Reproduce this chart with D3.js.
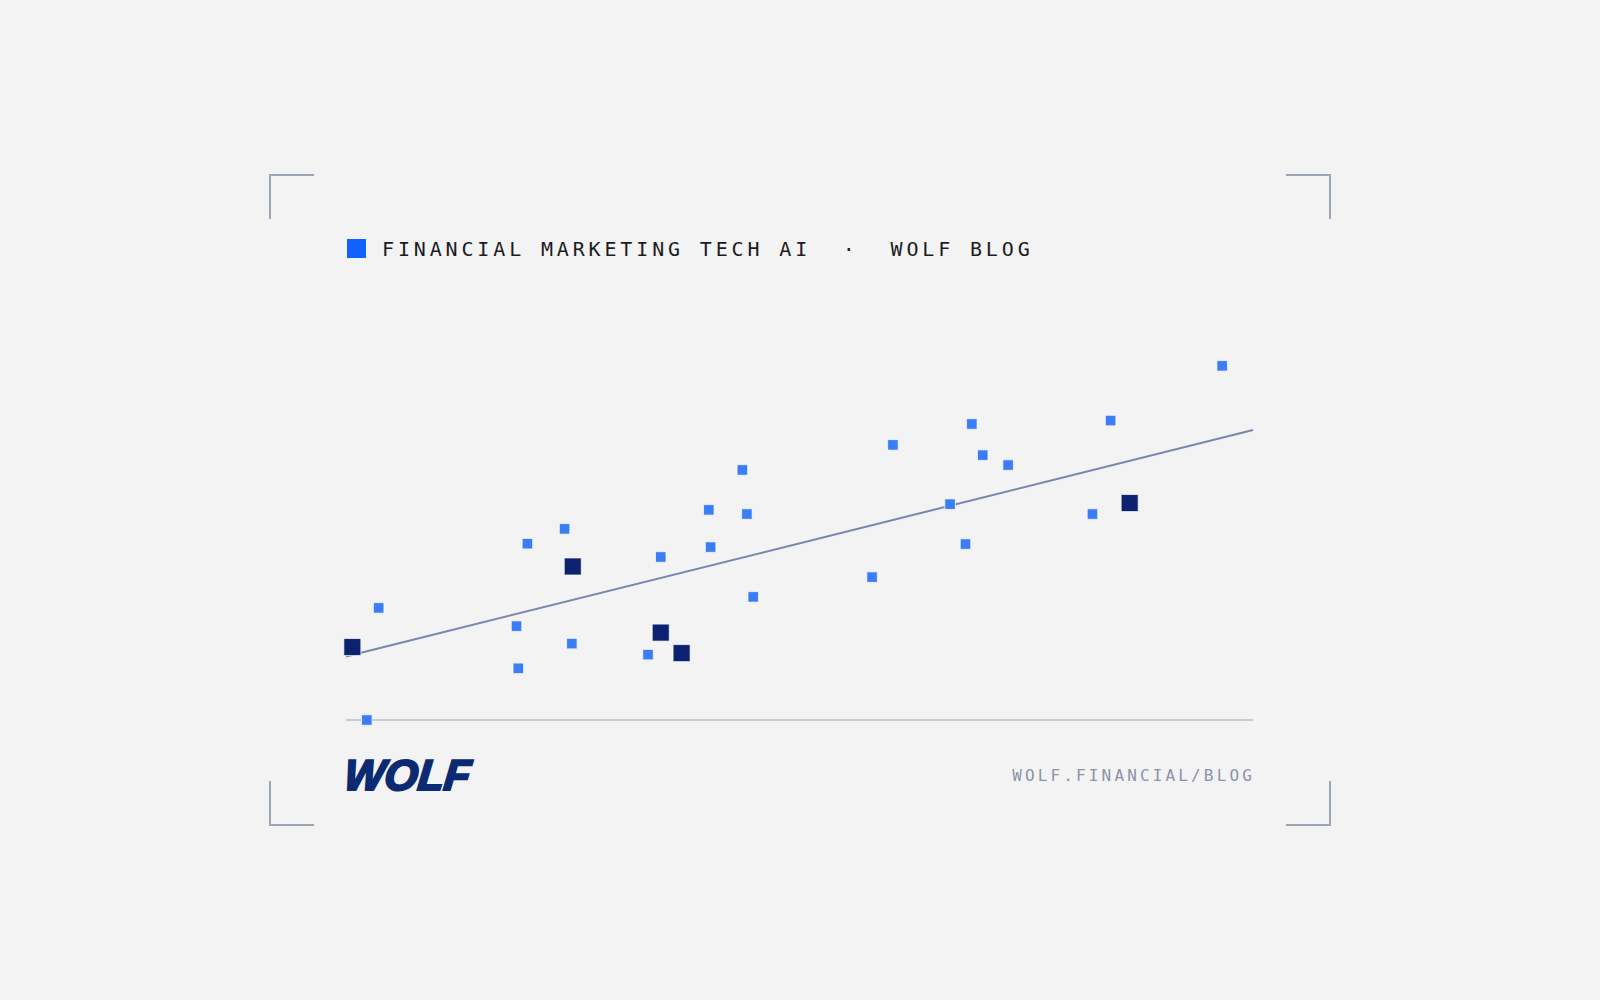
<!DOCTYPE html>
<html>
<head>
<meta charset="utf-8">
<script src="https://cdn.jsdelivr.net/npm/d3@7"></script>
<style>
  html, body { margin: 0; padding: 0; background: #f3f3f3; }
  svg { display: block; }
</style>
</head>
<body>
<svg id="chart" width="1600" height="1000"></svg>
<script>
// ---- data ----
const titleText = "FINANCIAL MARKETING TECH AI  \u00B7  WOLF BLOG";
const urlText = "WOLF.FINANCIAL/BLOG";
const logoText = "WOLF";

const lightX = [2.3, 3.6, 18.8, 19.0, 20.0, 24.1, 24.9, 33.3, 34.7, 40.0, 40.2, 43.7, 44.2, 44.9, 58.0, 60.3, 66.6, 68.3, 69.0, 70.2, 73.0, 82.3, 84.3, 96.6];
const lightY = [0.0, 29.5, 24.7, 13.6, 46.4, 50.3, 20.1, 17.2, 42.9, 55.3, 45.5, 65.8, 54.2, 32.4, 37.6, 72.4, 56.8, 46.3, 77.9, 69.7, 67.1, 54.2, 78.8, 93.2];

const darkX = [0.7, 25.0, 34.7, 37.0, 86.4];
const darkY = [19.2, 40.4, 23.0, 17.6, 57.1];

const trendX = [0, 100];
const trendY = [16.7, 76.3];

const xDomain = [0, 100];
const yDomain = [0, 100];

// ---- drawing ----
const svg = d3.select("#chart");
svg.append("rect").attr("width", 1600).attr("height", 1000).attr("fill", "#f3f3f3");

const x = d3.scaleLinear().domain(xDomain).range([346, 1253]);
const y = d3.scaleLinear().domain(yDomain).range([720, 340]);

// corner brackets
const frame = { l: 270, r: 1330, t: 175, b: 825, arm: 44 };
const corners = [
  [[frame.l, frame.t + frame.arm], [frame.l, frame.t], [frame.l + frame.arm, frame.t]],
  [[frame.r - frame.arm, frame.t], [frame.r, frame.t], [frame.r, frame.t + frame.arm]],
  [[frame.l, frame.b - frame.arm], [frame.l, frame.b], [frame.l + frame.arm, frame.b]],
  [[frame.r - frame.arm, frame.b], [frame.r, frame.b], [frame.r, frame.b - frame.arm]]
];
svg.selectAll("path.corner").data(corners).join("path")
  .attr("class", "corner")
  .attr("d", d3.line())
  .attr("fill", "none")
  .attr("stroke", "#9ba6b5")
  .attr("stroke-width", 2);

// title
svg.append("rect").attr("x", 347).attr("y", 239).attr("width", 19).attr("height", 19).attr("fill", "#0f62fe");
svg.append("text")
  .attr("x", 382).attr("y", 256)
  .attr("font-family", "'DejaVu Sans Mono', monospace")
  .attr("font-size", 20)
  .attr("letter-spacing", "3.85px")
  .attr("fill", "#1b1c1f")
  .attr("xml:space", "preserve")
  .style("white-space", "pre")
  .text(titleText);

// baseline
svg.append("line")
  .attr("x1", x(xDomain[0])).attr("x2", x(xDomain[1]))
  .attr("y1", y(0)).attr("y2", y(0))
  .attr("stroke", "#c6cbd9").attr("stroke-width", 2);

// trend line
const trend = trendX.map((v, i) => [v, trendY[i]]);
svg.append("path")
  .attr("d", d3.line().x(d => x(d[0])).y(d => y(d[1]))(trend))
  .attr("fill", "none")
  .attr("stroke", "#7a86ad")
  .attr("stroke-width", 2);

// light points
const lightS = 10.5;
const light = lightX.map((v, i) => [v, lightY[i]]);
svg.selectAll("rect.light").data(light).join("rect")
  .attr("class", "light")
  .attr("x", d => x(d[0]) - lightS / 2)
  .attr("y", d => y(d[1]) - lightS / 2)
  .attr("width", lightS).attr("height", lightS)
  .attr("fill", "#3b7df6")
  .attr("stroke", "#ffffff").attr("stroke-opacity", 0.7).attr("stroke-width", 1);

// dark points
const darkS = 17;
const dark = darkX.map((v, i) => [v, darkY[i]]);
svg.selectAll("rect.dark").data(dark).join("rect")
  .attr("class", "dark")
  .attr("x", d => x(d[0]) - darkS / 2)
  .attr("y", d => y(d[1]) - darkS / 2)
  .attr("width", darkS).attr("height", darkS)
  .attr("fill", "#0a2270")
  .attr("stroke", "#ffffff").attr("stroke-opacity", 0.7).attr("stroke-width", 1);

// logo
svg.append("text")
  .attr("x", 344).attr("y", 790)
  .attr("transform", "skewX(-6) translate(82,0)")
  .attr("font-family", "'Liberation Sans', Arial, sans-serif")
  .attr("font-weight", 900)
  .attr("font-style", "italic")
  .attr("font-size", 43)
  .attr("textLength", 126)
  .attr("lengthAdjust", "spacingAndGlyphs")
  .attr("fill", "#0b2a72")
  .attr("stroke", "#0b2a72")
  .attr("stroke-width", 2.2)
  .attr("stroke-linejoin", "miter")
  .text(logoText);

// url
svg.append("text")
  .attr("x", 1255).attr("y", 781)
  .attr("text-anchor", "end")
  .attr("font-family", "'DejaVu Sans Mono', monospace")
  .attr("font-size", 16)
  .attr("letter-spacing", "3.15px")
  .attr("fill", "#8a93a8")
  .text(urlText);
</script>
</body>
</html>
